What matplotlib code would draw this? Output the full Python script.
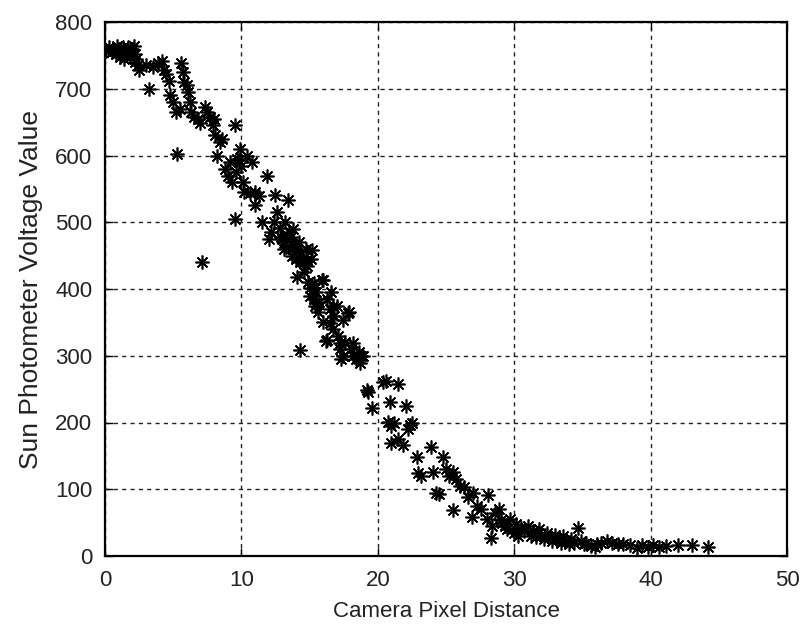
import matplotlib
matplotlib.use("Agg")
import matplotlib.pyplot as plt

x_vals = [
    0.1, 0.3, 0.5, 0.6, 0.8, 0.9, 1.0, 1.1, 1.2, 1.3, 1.4, 1.5, 1.6, 1.7, 1.8, 1.9, 2.0, 2.1, 2.2, 2.2, 2.3, 2.4, 2.5,
    3.0, 3.2, 3.5, 3.9, 4.2, 4.3, 4.5, 4.7, 4.8, 5.0, 5.2, 5.3, 5.5, 5.6, 5.7, 5.8, 6.0, 6.1, 6.2, 6.3, 6.5, 6.8,
    7.0, 7.1, 7.3, 7.5, 7.7, 7.9, 8.0, 8.1, 8.2, 8.4, 8.6, 8.8, 9.0, 9.2, 9.3, 9.5, 9.5, 9.6, 9.7, 9.8, 9.9,
    10.0, 10.1, 10.2, 10.4, 10.6, 10.8, 11.0, 11.0, 11.3, 11.5, 11.85, 12.0, 12.2, 12.4, 12.5, 12.6, 12.8, 12.9,
    13.0, 13.1, 13.2, 13.3, 13.4, 13.5, 13.6, 13.6, 13.7, 13.8, 13.9, 14.0, 14.0, 14.1, 14.2, 14.3, 14.3, 14.4,
    14.5, 14.6, 14.7, 14.8, 14.8, 14.9, 15.0, 15.0, 15.1, 15.2, 15.3, 15.3, 15.4, 15.5, 15.5, 15.6, 15.7, 15.9,
    16.0, 16.0, 16.2, 16.25, 16.3, 16.5, 16.5, 16.6, 16.7, 16.7, 16.8, 17.0, 17.1, 17.2, 17.2, 17.3, 17.45, 17.45,
    17.6, 17.8, 17.9, 18.0, 18.2, 18.2, 18.4, 18.6, 18.7, 18.8, 18.9, 19.2, 19.3, 19.55,
    20.4, 20.6, 20.75, 20.9, 21.0, 21.0, 21.2, 21.5, 21.5, 21.86, 22.1, 22.2, 22.36, 22.5,
    22.9, 22.95, 23.2, 23.9, 24.07, 24.3, 24.5, 24.8, 25.0, 25.2, 25.5, 25.5, 25.7, 26.0, 26.3, 26.6, 26.9,
    27.0, 27.3, 27.6, 28.0, 28.1, 28.3, 28.4, 28.6, 28.9, 29.0, 29.1, 29.3, 29.5, 29.7,
    30.0, 30.1, 30.3, 30.5, 30.7, 31.0, 31.2, 31.4, 31.6, 31.8, 32.0, 32.2, 32.4, 32.6, 32.8,
    33.0, 33.2, 33.4, 33.6, 33.8, 34.0, 34.2, 34.4, 34.7, 34.9, 35.1, 35.3, 35.6, 35.9,
    36.1, 36.4, 36.8, 37.2, 37.6, 38.0, 38.5, 39.0, 39.4, 39.8, 40.2, 40.6, 41.1, 42.0, 43.0, 44.2,
]
y_vals = [
    757, 762, 755, 760, 752, 764, 758, 748, 755, 762, 745, 750, 757, 763, 748, 755, 760, 764, 752, 740, 745, 735, 728,
    735, 700, 733, 738, 742, 728, 722, 712, 690, 680, 665, 602, 670, 738, 725, 710, 705, 695, 680, 665, 658, 655,
    648, 440, 672, 665, 658, 645, 655, 630, 600, 620, 625, 580, 570, 590, 560, 645, 505, 575, 595, 593, 610,
    585, 560, 545, 600, 544, 590, 526, 545, 540, 500, 570, 475, 485, 500, 541, 516, 491, 478,
    475, 460, 500, 463, 533, 485, 470, 478, 450, 490, 465, 445, 458, 418, 470, 309, 440, 455,
    440, 425, 460, 443, 435, 410, 402, 389, 445, 458, 385, 409, 375, 395, 379, 365, 380, 414,
    350, 413, 322, 324, 385, 370, 349, 396, 340, 374, 360, 375, 330, 310, 319, 295, 354, 299,
    320, 364, 366, 310, 300, 319, 295, 305, 289, 299, 300, 248, 245, 221,
    261, 262, 201, 231, 169, 195, 200, 258, 175, 166, 225, 190, 196, 200,
    149, 124, 120, 164, 126, 94, 93, 149, 130, 120, 126, 69, 115, 105, 104, 88, 59,
    95, 75, 70, 55, 91, 27, 45, 65, 70, 54, 50, 45, 40, 55,
    35, 48, 30, 42, 38, 45, 30, 38, 28, 40, 30, 25, 35, 28, 22,
    32, 25, 20, 30, 22, 18, 25, 20, 42, 22, 18, 20, 15, 14,
    18, 20, 22, 20, 18, 18, 16, 12, 17, 14, 16, 14, 15, 16, 16, 13,
]

x_ticks = [0, 10, 20, 30, 40, 50]
y_ticks = [0, 100, 200, 300, 400, 500, 600, 700, 800]
x_label = "Camera Pixel Distance"
y_label = "Sun Photometer Voltage Value"

plt.rcParams['font.family'] = ['Liberation Sans', 'DejaVu Sans']

fig = plt.figure(figsize=(8.12, 6.24), dpi=100)
ax = fig.add_axes([105/812, 68/624, 682/812, 534/624])

ax.plot(x_vals, y_vals, linestyle='none', marker=(8, 2, 0), markersize=10,
        markeredgewidth=1.2, color='black')

ax.set_xlim(0, 50)
ax.set_ylim(0, 800)
ax.set_xticks(x_ticks)
ax.set_yticks(y_ticks)
ax.grid(True, color='#222222', linestyle=(0, (3, 3)), linewidth=1.0)
ax.set_axisbelow(True)
ax.tick_params(direction='in', length=6, width=1, top=True, right=True,
               labelsize=16, labelcolor='#222222')
ax.tick_params(axis='x', pad=10)
ax.tick_params(axis='y', pad=9)
for s in ax.spines.values():
    s.set_linewidth(1.6)
ax.set_xlabel(x_label, fontsize=16, labelpad=7, color='#222222')
ax.set_ylabel(y_label, fontsize=19, labelpad=9, color='#222222')

fig.savefig("out.png", dpi=100)
